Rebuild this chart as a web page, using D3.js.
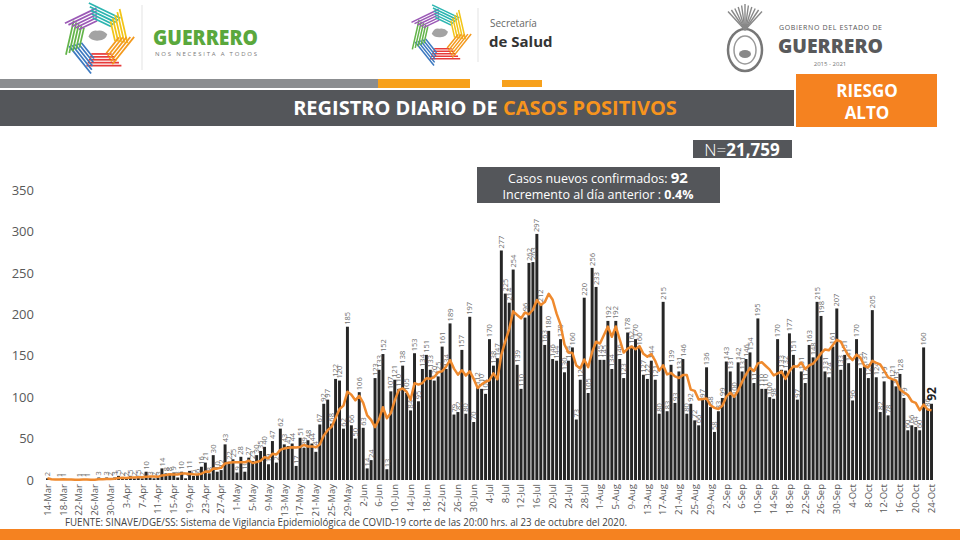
<!DOCTYPE html>
<meta charset="utf-8">
<style>
body { margin: 0; background: #fff; }
svg { display: block; font-family: "Open Sans", sans-serif; }
</style>
<body>
<script src="https://d3js.org/d3.v7.min.js"></script>
<script>
var width = 960,
    height = 540;

// casos positivos por dia, desde el 14-Mar-2020
var inicio = new Date(2020, 2, 14);
var casos = [
  2,0,0,1,1,0,0,0,1,1, 1,0,0,3,0,3,2,3,5,2, 2,5,2,5,2,10,3,2,3,14,
  8,8,9,3,10,2,11,5,6,
  16,21,8,30,10,12,43,22,25,9, 28,10,27,23,30,35,40,19,47,21,
  62,43,41,44,17,51,39,48,44,34, 67,92,97,68,122,120,62,185,66,50,
  106,63,
  14,24,123,133,152,13,107,121,110,138, 105,84,153,95,134,151,133,120,125,161,
  134,189,79,82,157,80,197,70,112,110, 104,170,138,147,277,225,214,254,139,
  110,196,262,263,297,212,163,180,146,144, 170,130,144,160,73,121,220,105,256,233,
  145,145,192,134,192,146,123,178,162,170, 160,127,122,
  144,121,80,215,83,139,93,131,146,80, 92,72,66,97,136,88,58,83,99,143,
  131,100,142,131,146,154,117,195,110,110, 100,98,170,
  133,132,177,151,97,131,117,163,148,215, 198,131,124,161,207,133,151,141,96,170,
  135,137,123,205,124,82,119,78,121,113, 128,99,60,66,64,60,160,86,92
];
var yTicks = [0, 50, 100, 150, 200, 250, 300, 350];
var pasoEtiqueta = 4;
var totalN = "21,759";
var nuevos = "92";
var incremento = "0.4%";
var fuente = "FUENTE: SINAVE/DGE/SS: Sistema de Vigilancia Epidemiológica de COVID-19 corte de las 20:00 hrs. al 23 de octubre del 2020.";

var naranja = "#f58220",
    gris = "#54565a";

var fmt = d3.timeFormat("%-d-%b");
function fecha(i) { return d3.timeDay.offset(inicio, i); }

// promedio movil de 7 dias
var promedio = casos.map(function(v, i) {
  return d3.mean(casos.slice(Math.max(0, i - 6), i + 1));
});

var svg = d3.select("body").append("svg")
    .attr("width", width)
    .attr("height", height);

// ---------- encabezado ----------
function logo(cx, cy, r) {
  var colores = ["#e63b3b", "#3c79c0", "#63b44a", "#9b59b6", "#2bb5b0", "#f2c417", "#f39a1e"];
  var g = svg.append("g").attr("transform", "translate(" + cx + "," + cy + ")");
  for (var k = 0; k < 7; k++) {
    var gg = g.append("g").attr("transform", "rotate(" + (180 + k * 360 / 7) + ")");
    for (var s = 0; s < 5; s++) {
      var rr = r * 0.55 + s * r * 0.1;
      gg.append("line")
        .attr("x1", -rr * 0.85).attr("x2", rr * 0.42)
        .attr("y1", -rr).attr("y2", -rr)
        .attr("stroke", colores[k])
        .attr("stroke-width", r * 0.06);
    }
  }
  g.append("path")
    .attr("d", "M" + (-r*0.33) + "," + (-r*0.05) + " q" + (r*0.1) + "," + (-r*0.25) + " " + (r*0.3) + "," + (-r*0.2)
      + " q" + (r*0.2) + "," + (-r*0.05) + " " + (r*0.35) + "," + (r*0.12)
      + " q" + (-r*0.05) + "," + (r*0.2) + " " + (-r*0.3) + "," + (r*0.22)
      + " q" + (-r*0.25) + "," + (r*0.02) + " " + (-r*0.35) + "," + (-r*0.14) + "z")
    .attr("fill", "#a3a3a3");
}

logo(98, 38, 29);
logo(440, 35, 25);

svg.append("line").attr("x1", 142).attr("x2", 142).attr("y1", 5).attr("y2", 70)
  .attr("stroke", "#e3e3e3");
svg.append("line").attr("x1", 478).attr("x2", 478).attr("y1", 8).attr("y2", 62)
  .attr("stroke", "#e3e3e3");

svg.append("text").attr("x", 153).attr("y", 45)
  .attr("font-size", 21).attr("font-weight", 800).attr("fill", "#5aa83d")
  .attr("textLength", 105).attr("lengthAdjust", "spacingAndGlyphs")
  .text("GUERRERO");
svg.append("text").attr("x", 155).attr("y", 56)
  .attr("font-size", 6).attr("fill", "#7a7a7a")
  .attr("textLength", 102).attr("lengthAdjust", "spacing")
  .text("NOS NECESITA A TODOS");

svg.append("text").attr("x", 490).attr("y", 27)
  .attr("font-size", 10).attr("fill", "#666").text("Secretaría");
svg.append("text").attr("x", 489).attr("y", 47)
  .attr("font-size", 15).attr("font-weight", 700).attr("fill", "#333").text("de Salud");

// escudo
var esc = svg.append("g").attr("transform", "translate(745,44)");
esc.append("ellipse").attr("rx", 17).attr("ry", 21).attr("cy", 6)
  .attr("fill", "none").attr("stroke", "#777").attr("stroke-width", 2.5);
esc.append("ellipse").attr("rx", 11).attr("ry", 14).attr("cy", 6)
  .attr("fill", "none").attr("stroke", "#999").attr("stroke-width", 1.5);
esc.append("ellipse").attr("rx", 6).attr("ry", 4).attr("cy", 10)
  .attr("fill", "#888");
d3.range(-5, 6).forEach(function(k) {
  esc.append("line").attr("x1", 0).attr("y1", -14)
    .attr("x2", k * 3.4).attr("y2", -40 + Math.abs(k) * 1.5)
    .attr("stroke", "#888").attr("stroke-width", 1.4);
});

svg.append("text").attr("x", 779).attr("y", 30)
  .attr("font-size", 7).attr("fill", "#555")
  .attr("textLength", 103).attr("lengthAdjust", "spacing")
  .text("GOBIERNO DEL ESTADO DE");
svg.append("text").attr("x", 778).attr("y", 53)
  .attr("font-size", 20).attr("font-weight", 800).attr("fill", "#58595b")
  .attr("textLength", 105).attr("lengthAdjust", "spacingAndGlyphs")
  .text("GUERRERO");
svg.append("text").attr("x", 830).attr("y", 66).attr("text-anchor", "middle")
  .attr("font-size", 6).attr("fill", "#777").text("2015 - 2021");

// franjas
svg.append("rect").attr("x", 0).attr("y", 79).attr("width", 378).attr("height", 9).attr("fill", "#8b8d90");
svg.append("rect").attr("x", 378).attr("y", 79).attr("width", 92).attr("height", 9).attr("fill", "#f7a11c");
svg.append("rect").attr("x", 502).attr("y", 80).attr("width", 40).attr("height", 7).attr("fill", "#f7a11c");

// barra de titulo
svg.append("rect").attr("x", 0).attr("y", 90).attr("width", 794).attr("height", 36).attr("fill", gris);
var tit = svg.append("text").attr("x", 485).attr("y", 115).attr("text-anchor", "middle")
  .attr("font-size", 20).attr("font-weight", 700).attr("fill", "#fff");
tit.append("tspan").text("REGISTRO DIARIO DE ");
tit.append("tspan").attr("fill", "#f7941d").text("CASOS POSITIVOS");

svg.append("rect").attr("x", 796).attr("y", 74).attr("width", 141).attr("height", 53).attr("fill", naranja);
svg.append("text").attr("x", 867).attr("y", 97).attr("text-anchor", "middle")
  .attr("font-size", 17).attr("font-weight", 700).attr("fill", "#fff").text("RIESGO");
svg.append("text").attr("x", 867).attr("y", 119).attr("text-anchor", "middle")
  .attr("font-size", 17).attr("font-weight", 700).attr("fill", "#fff").text("ALTO");

// N
svg.append("rect").attr("x", 693).attr("y", 140).attr("width", 99).attr("height", 18).attr("fill", gris);
var nt = svg.append("text").attr("x", 742).attr("y", 156).attr("text-anchor", "middle")
  .attr("font-size", 17).attr("fill", "#fff");
nt.append("tspan").attr("font-weight", 300).text("N=");
nt.append("tspan").attr("font-weight", 700).text(totalN);

// recuadro de casos nuevos
svg.append("rect").attr("x", 477).attr("y", 167).attr("width", 243).attr("height", 36).attr("fill", gris);
var l1 = svg.append("text").attr("x", 598).attr("y", 183).attr("text-anchor", "middle")
  .attr("font-size", 12.5).attr("fill", "#fff");
l1.append("tspan").text("Casos nuevos confirmados: ");
l1.append("tspan").attr("font-weight", 700).attr("font-size", 15).text(nuevos);
var l2 = svg.append("text").attr("x", 598).attr("y", 199).attr("text-anchor", "middle")
  .attr("font-size", 12.5).attr("fill", "#fff");
l2.append("tspan").text("Incremento al día anterior : ");
l2.append("tspan").attr("font-weight", 700).text(incremento);

// ---------- grafica ----------
var x = d3.scaleBand()
    .domain(d3.range(casos.length))
    .range([46, 933])
    .paddingInner(0.25);

var y = d3.scaleLinear()
    .domain([0, 350])
    .range([480, 190]);

var bw = x.bandwidth();

svg.append("g")
    .attr("transform", "translate(36,0)")
    .call(d3.axisLeft(y).tickValues(yTicks).tickSize(0).tickPadding(2))
    .call(function(g) { g.select(".domain").remove(); })
    .selectAll("text")
    .attr("font-size", 13).attr("fill", "#595959")
    .attr("font-family", "Open Sans, sans-serif");

svg.append("g")
    .attr("transform", "translate(0,480)")
    .call(d3.axisBottom(x)
      .tickValues(d3.range(0, casos.length, pasoEtiqueta))
      .tickFormat(function(i) { return fmt(fecha(i)); })
      .tickSize(0))
    .call(function(g) { g.select(".domain").remove(); })
    .selectAll("text")
    .attr("transform", "rotate(-90)")
    .attr("text-anchor", "end")
    .attr("x", -4).attr("y", 0).attr("dy", "0.35em")
    .attr("font-size", 9.5).attr("fill", "#595959")
    .attr("font-family", "Open Sans, sans-serif");

svg.append("g").selectAll("rect")
  .data(casos)
  .enter().append("rect")
    .attr("x", function(d, i) { return x(i); })
    .attr("y", function(d) { return y(d); })
    .attr("width", bw)
    .attr("height", function(d) { return 480 - y(d); })
    .attr("fill", "#262626");

svg.append("g").selectAll("text")
  .data(casos.map(function(v, i) { return { v: v, i: i }; })
    .filter(function(d) { return d.v > 0 && d.i < casos.length - 1; }))
  .enter().append("text")
    .attr("transform", function(d) {
      return "translate(" + (x(d.i) + bw / 2) + "," + (y(d.v) - 2) + ") rotate(-90)";
    })
    .attr("dy", "0.35em")
    .attr("font-size", 7.5).attr("fill", "#707070")
    .text(function(d) { return d.v; });

var line = d3.line()
    .x(function(d, i) { return x(i) + bw / 2; })
    .y(function(d) { return y(d); });

svg.append("path")
    .datum(promedio)
    .attr("d", line)
    .attr("fill", "none")
    .attr("stroke", "#ef8a2e")
    .attr("stroke-width", 2.5)
    .attr("stroke-linejoin", "round");

var ult = casos.length - 1;
svg.append("text")
    .attr("transform", "translate(" + (x(ult) + bw / 2) + "," + (y(casos[ult]) - 3) + ") rotate(-90)")
    .attr("dy", "0.35em")
    .attr("font-size", 12).attr("font-weight", 700).attr("fill", "#222")
    .text(casos[ult]);

// ---------- pie ----------
svg.append("text").attr("x", 65).attr("y", 526)
  .attr("font-size", 10.5).attr("fill", "#444")
  .attr("textLength", 562).attr("lengthAdjust", "spacingAndGlyphs")
  .text(fuente);
svg.append("rect").attr("x", 0).attr("y", 529).attr("width", width).attr("height", 11).attr("fill", naranja);
</script>
</body>
